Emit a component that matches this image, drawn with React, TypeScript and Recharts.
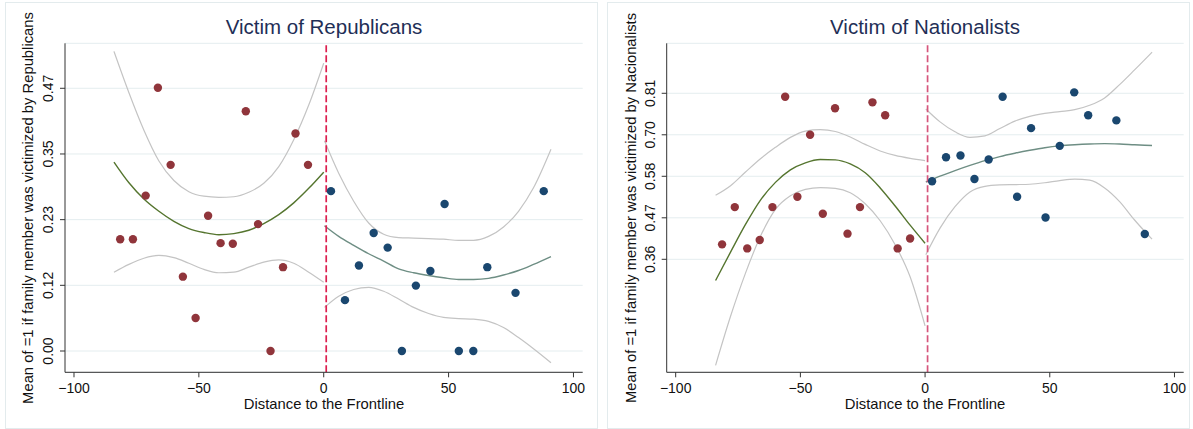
import React from "react";
import {
  ComposedChart,
  Scatter,
  Line,
  XAxis,
  YAxis,
  CartesianGrid,
  ReferenceLine,
} from "recharts";

const FONT = '"Liberation Sans", Arial, Helvetica, sans-serif';

// x axis (shared)
const xTicks = [-100, -50, 0, 50, 100];
const xTickLabels = ["\u2212100", "\u221250", "0", "50", "100"];
const cutoff = 1;

// fit grids
const gridLeft = [-84, -78, -72, -66, -60, -54, -48, -42, -36, -30, -24, -18, -12, -6, 0];
const gridRight = [0.3, 6, 12, 18, 24, 30, 36, 42, 48, 54, 60, 66, 72, 78, 84, 91];

// ---- Victim of Republicans ----
const repTicks = [0, 0.1175, 0.235, 0.3525, 0.47];
const repTickLabels = ["0.00", "0.12", "0.23", "0.35", "0.47"];

const repLeftX = [-81.5, -76.4, -71.3, -66.4, -61.3, -56.4, -51.3, -46.3, -41.3, -36.4, -31.2, -26.3, -21.3, -16.3, -11.3, -6.3];
const repLeftY = [0.2, 0.2, 0.278, 0.471, 0.333, 0.133, 0.059, 0.242, 0.193, 0.192, 0.429, 0.227, 0.0, 0.15, 0.389, 0.333];
const repRightX = [2.9, 8.5, 14.1, 20.0, 25.6, 31.3, 36.9, 42.7, 48.4, 54.1, 59.9, 65.5, 76.8, 88.1];
const repRightY = [0.286, 0.091, 0.153, 0.211, 0.185, 0.0, 0.117, 0.143, 0.263, 0.0, 0.0, 0.15, 0.104, 0.286];

const repFitL = [0.338, 0.301, 0.272, 0.25, 0.232, 0.219, 0.212, 0.208, 0.21, 0.216, 0.228, 0.244, 0.265, 0.291, 0.32];
const repHiL = [0.536, 0.462, 0.395, 0.34, 0.305, 0.285, 0.277, 0.275, 0.276, 0.284, 0.3, 0.33, 0.378, 0.44, 0.515];
const repLoL = [0.141, 0.155, 0.166, 0.171, 0.167, 0.157, 0.146, 0.14, 0.141, 0.15, 0.159, 0.163, 0.157, 0.141, 0.123];
const repFitR = [0.224, 0.205, 0.189, 0.174, 0.161, 0.147, 0.14, 0.135, 0.131, 0.128, 0.128, 0.13, 0.136, 0.144, 0.155, 0.169];
const repHiR = [0.376, 0.318, 0.268, 0.229, 0.209, 0.203, 0.202, 0.201, 0.2, 0.198, 0.198, 0.205, 0.222, 0.25, 0.292, 0.361];
const repLoR = [0.078, 0.098, 0.11, 0.114, 0.107, 0.093, 0.078, 0.067, 0.06, 0.058, 0.057, 0.053, 0.042, 0.024, 0.004, -0.021];

// ---- Victim of Nationalists ----
const natTicks = [0.3575, 0.47, 0.5825, 0.695, 0.8075];
const natTickLabels = ["0.36", "0.47", "0.58", "0.70", "0.81"];

const natLeftX = [-81.4, -76.3, -71.3, -66.3, -61.2, -56.1, -51.2, -46.1, -41.0, -36.1, -31.1, -26.1, -21.1, -16.0, -11.0, -6.0];
const natLeftY = [0.398, 0.499, 0.387, 0.41, 0.499, 0.798, 0.527, 0.695, 0.481, 0.767, 0.427, 0.499, 0.783, 0.748, 0.387, 0.414];
const natRightX = [2.8, 8.4, 14.2, 19.8, 25.5, 31.1, 36.9, 42.5, 48.3, 54.0, 59.8, 65.4, 76.7, 88.1];
const natRightY = [0.569, 0.634, 0.639, 0.575, 0.628, 0.798, 0.527, 0.713, 0.471, 0.665, 0.81, 0.748, 0.734, 0.426];

const natFitL = [0.3, 0.377, 0.452, 0.518, 0.566, 0.6, 0.619, 0.628, 0.627, 0.616, 0.592, 0.551, 0.502, 0.45, 0.401];
const natHiL = [0.531, 0.557, 0.594, 0.63, 0.661, 0.688, 0.705, 0.709, 0.704, 0.689, 0.669, 0.651, 0.639, 0.631, 0.625];
const natLoL = [0.07, 0.203, 0.32, 0.42, 0.493, 0.53, 0.547, 0.552, 0.55, 0.538, 0.508, 0.462, 0.397, 0.31, 0.177];
const natFitR = [0.567, 0.583, 0.598, 0.612, 0.625, 0.636, 0.645, 0.653, 0.66, 0.665, 0.668, 0.67, 0.671, 0.67, 0.668, 0.666];
const natHiR = [0.765, 0.73, 0.703, 0.688, 0.692, 0.712, 0.732, 0.745, 0.753, 0.758, 0.763, 0.775, 0.795, 0.831, 0.871, 0.919];
const natLoR = [0.37, 0.442, 0.5, 0.54, 0.555, 0.559, 0.56, 0.561, 0.565, 0.571, 0.575, 0.572, 0.551, 0.514, 0.464, 0.412];

const RED = "#90353b";
const BLUE = "#1a476f";
const GREEN = "#55752f";
const TEAL = "#6e8e84";
const CI = "#c4c4c4";
const GRID = "#e4edef";

const zip = (xs: number[], ys: number[]) => xs.map((x, i) => ({ x, y: ys[i] }));

const dot = (fill: string) => (p: any) =>
  p.cx == null ? <g /> : <circle cx={p.cx} cy={p.cy} r={4.2} fill={fill} />;

type PanelProps = {
  left: number;
  width: number;
  yAxisWidth: number;
  marginRight: number;
  yDomain: [number, number];
  yTicks: number[];
  yTickLabels: string[];
  ptsL: { x: number; y: number }[];
  ptsR: { x: number; y: number }[];
  fitL: number[];
  hiL: number[];
  loL: number[];
  fitR: number[];
  hiR: number[];
  loR: number[];
  cutColor: string;
};

function Panel(p: PanelProps) {
  const lines: [number[], number[], string, number][] = [
    [gridLeft, p.hiL, CI, 1.2],
    [gridLeft, p.loL, CI, 1.2],
    [gridRight, p.hiR, CI, 1.2],
    [gridRight, p.loR, CI, 1.2],
    [gridLeft, p.fitL, GREEN, 1.4],
    [gridRight, p.fitR, TEAL, 1.4],
  ];
  return (
    <div style={{ position: "absolute", left: p.left, top: 3 }}>
      <ComposedChart
        width={p.width}
        height={425}
        margin={{ top: 40.3, right: p.marginRight, bottom: 25.7, left: 0 }}
      >
        <CartesianGrid vertical={false} stroke={GRID} strokeWidth={1} />
        <XAxis
          type="number"
          dataKey="x"
          domain={[-103.6, 103.7]}
          ticks={xTicks}
          allowDataOverflow
          height={30}
          tickSize={5}
          stroke="#333"
          tick={(t: any) => {
            const i = xTicks.indexOf(t.payload.value);
            return (
              <text x={t.x} y={390} textAnchor="middle" fontSize={14} fontFamily={FONT} fill="#111">
                {xTickLabels[i]}
              </text>
            );
          }}
        />
        <YAxis
          type="number"
          dataKey="y"
          domain={p.yDomain}
          ticks={p.yTicks}
          allowDataOverflow
          width={p.yAxisWidth}
          tickSize={5}
          stroke="#333"
          tick={(t: any) => {
            const i = p.yTicks.indexOf(t.payload.value);
            const bx = p.yAxisWidth - 11.7;
            return (
              <text
                x={bx}
                y={t.y}
                transform={`rotate(-90, ${bx}, ${t.y})`}
                textAnchor="middle"
                fontSize={14}
                fontFamily={FONT}
                fill="#111"
              >
                {p.yTickLabels[i]}
              </text>
            );
          }}
        />
        {lines.map(([xs, ys, c, w], i) => (
          <Line
            key={i}
            data={zip(xs, ys)}
            dataKey="y"
            type="monotone"
            stroke={c}
            strokeWidth={w}
            dot={false}
            activeDot={false}
            isAnimationActive={false}
          />
        ))}
        <ReferenceLine x={cutoff} stroke={p.cutColor} strokeWidth={1.7} strokeDasharray="7 3" />
        <Scatter data={p.ptsL} fill={RED} shape={dot(RED)} isAnimationActive={false} />
        <Scatter data={p.ptsR} fill={BLUE} shape={dot(BLUE)} isAnimationActive={false} />
      </ComposedChart>
    </div>
  );
}

export default function App() {
  return (
    <div style={{ position: "absolute", left: 0, top: 0, width: 1193, height: 429, background: "#fff" }}>
      <svg width={1193} height={429} style={{ position: "absolute", left: 0, top: 0 }}>
        <rect x={5.5} y={2.5} width={592} height={426} fill="none" stroke="#e3ebed" />
        <rect x={607.5} y={2.5} width={582} height={426} fill="none" stroke="#e3ebed" />
      </svg>
      <Panel
        left={6}
        width={592}
        yAxisWidth={59}
        marginRight={15.3}
        yDomain={[-0.0381, 0.5505]}
        yTicks={repTicks}
        yTickLabels={repTickLabels}
        ptsL={zip(repLeftX, repLeftY)}
        ptsR={zip(repRightX, repRightY)}
        fitL={repFitL}
        hiL={repHiL}
        loL={repLoL}
        fitR={repFitR}
        hiR={repHiR}
        loR={repLoR}
        cutColor="#dc1e4e"
      />
      <Panel
        left={608}
        width={582}
        yAxisWidth={58.7}
        marginRight={6.3}
        yDomain={[0.0512, 0.943]}
        yTicks={natTicks}
        yTickLabels={natTickLabels}
        ptsL={zip(natLeftX, natLeftY)}
        ptsR={zip(natRightX, natRightY)}
        fitL={natFitL}
        hiL={natHiL}
        loL={natLoL}
        fitR={natFitR}
        hiR={natHiR}
        loR={natLoR}
        cutColor="#d6567c"
      />
      <svg
        width={1193}
        height={429}
        style={{ position: "absolute", left: 0, top: 0, pointerEvents: "none" }}
        fontFamily={FONT}
      >
        <text x={324} y={34} textAnchor="middle" fontSize={20.5} fill="#1f2f57">
          Victim of Republicans
        </text>
        <text x={925} y={34} textAnchor="middle" fontSize={20.5} fill="#1f2f57">
          Victim of Nationalists
        </text>
        <text x={324} y={409} textAnchor="middle" fontSize={14.8} fill="#111">
          Distance to the Frontline
        </text>
        <text x={925} y={409} textAnchor="middle" fontSize={14.8} fill="#111">
          Distance to the Frontline
        </text>
        <text x={33.3} y={208} transform="rotate(-90, 33.3, 208)" textAnchor="middle" fontSize={14.8} fill="#111">
          Mean of =1 if family member was victimized by Republicans
        </text>
        <text x={635.5} y={208} transform="rotate(-90, 635.5, 208)" textAnchor="middle" fontSize={14.8} fill="#111">
          Mean of =1 if family member was victimized by Nacionalists
        </text>
      </svg>
    </div>
  );
}
